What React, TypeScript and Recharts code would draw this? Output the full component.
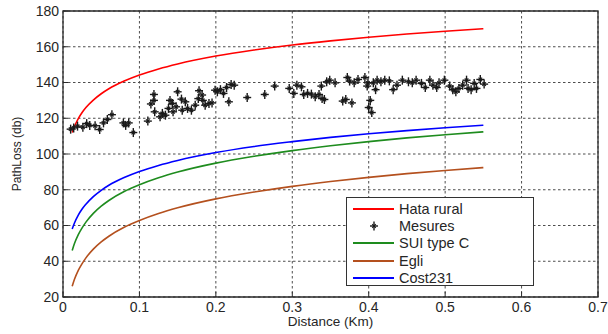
import {
    ComposedChart,
    Line,
    Scatter,
    XAxis,
    YAxis,
    CartesianGrid,
    ReferenceArea,
    Legend,
} from "recharts";

// model curves, sampled at these distances (km)
const distKm = [0.012, 0.015, 0.02, 0.025, 0.03, 0.04, 0.05, 0.06, 0.08, 0.1, 0.125, 0.15, 0.2, 0.25, 0.3, 0.35, 0.4, 0.45, 0.5, 0.55];
const hataRural = [112, 115.4, 119.8, 123.2, 126, 130.3, 133.7, 136.5, 140.8, 144.2, 147.6, 150.4, 154.8, 158.2, 161, 163.3, 165.3, 167.1, 168.7, 170.1];
const suiTypeC = [46, 49.9, 54.9, 58.7, 61.9, 66.9, 70.8, 74, 79, 82.8, 86.7, 89.9, 94.9, 98.7, 101.9, 104.6, 106.9, 109, 110.8, 112.4];
const egli = [26, 29.9, 34.9, 38.7, 41.9, 46.9, 50.8, 54, 59, 62.8, 66.7, 69.9, 74.9, 78.7, 81.9, 84.6, 86.9, 89, 90.8, 92.4];
const cost231 = [58, 61.4, 65.8, 69.2, 71.9, 76.3, 79.7, 82.5, 86.8, 90.2, 93.6, 96.4, 100.8, 104.2, 106.9, 109.3, 111.3, 113.1, 114.7, 116.1];

// measured points
const mesDist = [
    0.01, 0.014, 0.019, 0.026, 0.031, 0.035, 0.042, 0.048, 0.053, 0.058, 0.064, 0.079, 0.082, 0.086, 0.092,
    0.111, 0.115, 0.119, 0.119, 0.12, 0.127, 0.13, 0.134, 0.138, 0.14, 0.143, 0.144, 0.148, 0.15, 0.155,
    0.156, 0.16, 0.163, 0.168, 0.173, 0.177, 0.178, 0.182, 0.183, 0.186, 0.191, 0.195, 0.199, 0.202, 0.206,
    0.21, 0.214, 0.217, 0.22, 0.224, 0.241, 0.264, 0.277, 0.296, 0.302, 0.306, 0.312, 0.315, 0.32, 0.325,
    0.33, 0.335, 0.338, 0.339, 0.342, 0.345, 0.349, 0.356, 0.366, 0.37, 0.372, 0.375, 0.378, 0.381, 0.386,
    0.395, 0.398, 0.399, 0.4, 0.402, 0.404, 0.406, 0.409, 0.411, 0.416, 0.421, 0.427, 0.432, 0.437, 0.444,
    0.452, 0.457, 0.462, 0.469, 0.474, 0.48, 0.484, 0.489, 0.492, 0.499, 0.506, 0.51, 0.514, 0.518, 0.523,
    0.528, 0.53, 0.534, 0.538, 0.541, 0.546, 0.551,
];
const mesLoss = [
    113.9, 114.6, 115.6, 115, 117, 116, 115.8, 113.7, 117.4, 119.3, 122, 117.4, 116, 117.4, 112,
    118.4, 128, 133.3, 130, 123.6, 120.8, 122.7, 121.7, 125.5, 130, 128.3, 123.6, 126.4, 134.8, 130.7,
    124.5, 129.2, 125.5, 124.5, 127.3, 131, 135.4, 133, 130, 127.3, 128.3, 128.6, 135.7, 134.8, 136,
    133.9, 137.2, 129.2, 138.9, 138.5, 131.6, 133.3, 138, 136.7, 133.9, 138.5, 137.6, 133.3, 133.9, 133.5,
    132, 133.3, 138, 131, 130.5, 140.4, 141.3, 139.8, 129.6, 130.5, 142.8, 140.8, 128.6, 139.8, 141.7,
    142.8, 138, 139.8, 126, 130, 123.2, 139.8, 136, 141.3, 140.4, 141.3, 140.9, 136, 138.5, 141.3,
    140.4, 139.8, 141.3, 139.5, 137.2, 141.3, 138.5, 137.2, 139.8, 141.3, 138, 136, 134.8, 136.7, 138.5,
    141.3, 136.7, 136, 139.5, 136.7, 141.7, 139.1,
];

const xTicks = [0, 0.1, 0.2, 0.3, 0.4, 0.5, 0.6, 0.7];
const yTicks = [20, 40, 60, 80, 100, 120, 140, 160, 180];

const series = [
    { name: "Hata rural", color: "#ff0000", values: hataRural },
    { name: "Mesures", color: "#1a1a1a", values: null },
    { name: "SUI type C", color: "#1e8c1e", values: suiTypeC },
    { name: "Egli", color: "#b4501e", values: egli },
    { name: "Cost231", color: "#0000ff", values: cost231 },
];

const FONT = "'Liberation Sans', Arial, sans-serif";
const TEXT = "#262626";

const curveRows = (values: number[]) => distKm.map((d, i) => ({ x: d, y: values[i] }));
const mesRows = mesDist.map((d, i) => ({ x: d, y: mesLoss[i] }));

// matlab-ish '*' marker
const Star = ({ cx, cy }: { cx: number; cy: number }) => (
    <g stroke="#1a1a1a" strokeWidth={1.4}>
        <line x1={cx - 4} y1={cy} x2={cx + 4} y2={cy} />
        <line x1={cx} y1={cy - 4.5} x2={cx} y2={cy + 4.5} />
        <line x1={cx - 1.8} y1={cy - 1.8} x2={cx + 1.8} y2={cy + 1.8} strokeWidth={1.1} />
        <line x1={cx - 1.8} y1={cy + 1.8} x2={cx + 1.8} y2={cy - 1.8} strokeWidth={1.1} />
    </g>
);

const XTick = (props: any) => {
    const { x, y, payload } = props;
    const axisY = y - 5;
    return (
        <g>
            <line x1={x} y1={axisY} x2={x} y2={axisY - 5} stroke="#2a2a2a" />
            <text x={x} y={y} dy="0.71em" textAnchor="middle" fontSize={14} fill={TEXT} fontFamily={FONT}>
                {String(payload.value)}
            </text>
        </g>
    );
};

const YTick = (props: any) => {
    const { x, y, payload } = props;
    const axisX = x + 4;
    return (
        <g>
            <line x1={axisX} y1={y} x2={axisX + 5} y2={y} stroke="#2a2a2a" />
            <text x={x} y={y} dy="0.355em" textAnchor="end" fontSize={14} fill={TEXT} fontFamily={FONT}>
                {String(payload.value)}
            </text>
        </g>
    );
};

const LegendBox = () => (
    <div
        style={{
            width: 188,
            height: 89,
            boxSizing: "border-box",
            border: "1px solid #333",
            background: "#fff",
            paddingTop: 2,
            fontFamily: FONT,
            fontSize: 14.5,
            color: TEXT,
        }}
    >
        {series.map((s) => (
            <div key={s.name} style={{ display: "flex", alignItems: "center", height: 17.4 }}>
                <div style={{ width: 41, marginLeft: 6, marginRight: 5, display: "flex", justifyContent: "center" }}>
                    {s.values ? (
                        <div style={{ width: 41, height: 2, background: s.color }} />
                    ) : (
                        <svg width={12} height={12}>
                            <Star cx={6} cy={6} />
                        </svg>
                    )}
                </div>
                <span>{s.name}</span>
            </div>
        ))}
    </div>
);

export default function App() {
    return (
        <div style={{ position: "absolute", left: 0, top: 0, background: "#fff" }}>
            <ComposedChart width={608} height={334} margin={{ top: 11, right: 10, left: 0, bottom: 0 }}>
                <CartesianGrid stroke="#4d4d4d" strokeDasharray="2.5 2.5" />
                <XAxis
                    type="number"
                    dataKey="x"
                    domain={[0, 0.7]}
                    ticks={xTicks}
                    height={37}
                    axisLine={false}
                    tickSize={0}
                    tickMargin={5}
                    tick={<XTick />}
                    label={{
                        content: ({ viewBox }: any) => (
                            <text
                                x={viewBox.x + viewBox.width / 2}
                                y={326}
                                textAnchor="middle"
                                fontSize={13.5}
                                fill={TEXT}
                                fontFamily={FONT}
                            >
                                Distance (Km)
                            </text>
                        ),
                    }}
                />
                <YAxis
                    type="number"
                    domain={[20, 180]}
                    ticks={yTicks}
                    width={63}
                    axisLine={false}
                    tickSize={0}
                    tickMargin={4}
                    tick={<YTick />}
                    label={{
                        content: ({ viewBox }: any) => {
                            const cy = viewBox.y + viewBox.height / 2;
                            return (
                                <text
                                    x={17}
                                    y={cy}
                                    transform={`rotate(-90 17 ${cy})`}
                                    textAnchor="middle"
                                    dominantBaseline="central"
                                    fontSize={12}
                                    fill={TEXT}
                                    fontFamily={FONT}
                                >
                                    PathLoss (db)
                                </text>
                            );
                        },
                    }}
                />
                <ReferenceArea x1={0} x2={0.7} y1={20} y2={180} fill="none" stroke="#2a2a2a" strokeWidth={1.3} />
                {series.map((s) =>
                    s.values ? (
                        <Line
                            key={s.name}
                            data={curveRows(s.values)}
                            dataKey="y"
                            name={s.name}
                            type="monotone"
                            stroke={s.color}
                            strokeWidth={1.6}
                            dot={false}
                            isAnimationActive={false}
                        />
                    ) : (
                        <Scatter
                            key={s.name}
                            data={mesRows}
                            dataKey="y"
                            name={s.name}
                            shape={(p: any) => <Star cx={p.cx} cy={p.cy} />}
                            isAnimationActive={false}
                        />
                    )
                )}
                <Legend
                    layout="vertical"
                    align="center"
                    verticalAlign="middle"
                    content={<LegendBox />}
                    wrapperStyle={{ left: 346, top: 197, width: 188, height: 89 }}
                />
            </ComposedChart>
        </div>
    );
}
